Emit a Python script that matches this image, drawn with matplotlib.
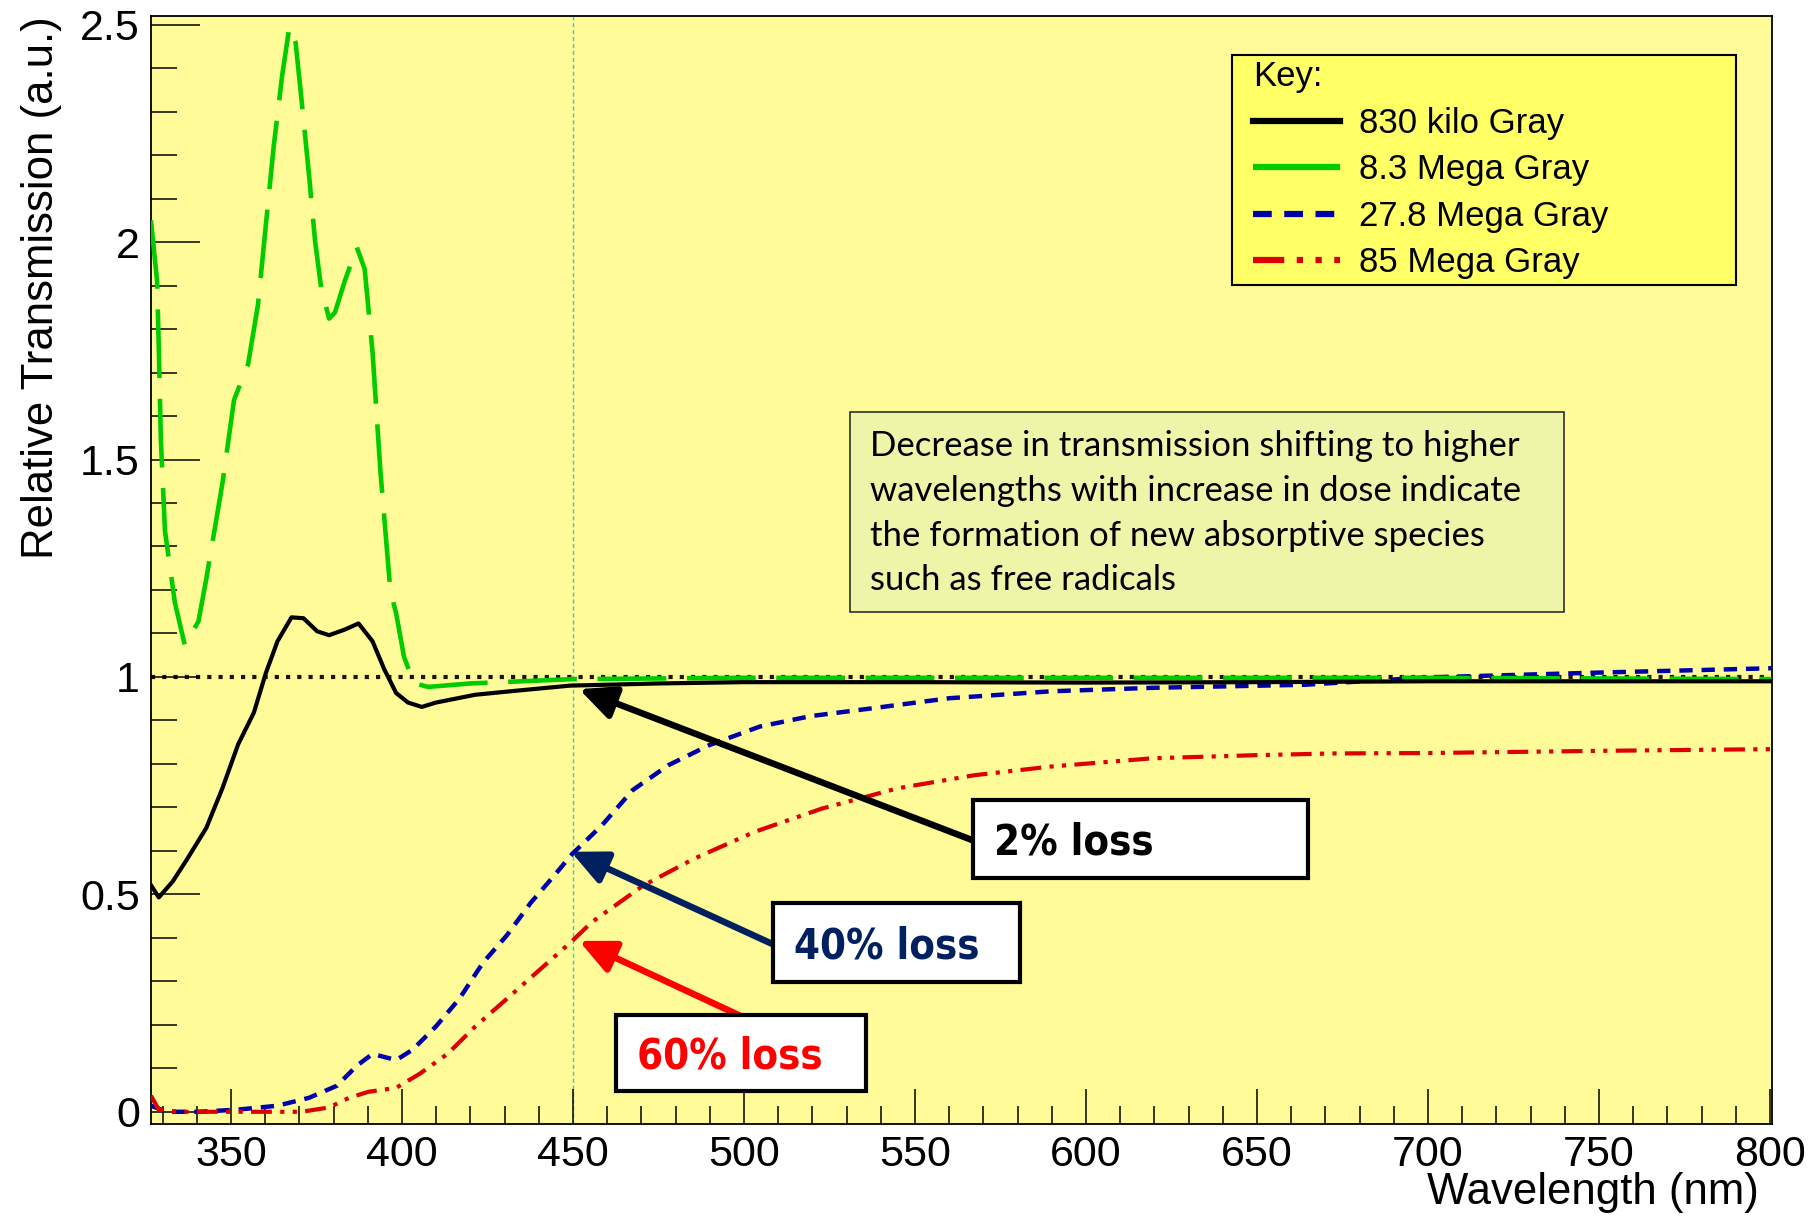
import numpy as np
import matplotlib
matplotlib.use('Agg')
from matplotlib import pyplot as plt
from matplotlib import font_manager
from matplotlib.patches import Rectangle
from matplotlib.ticker import MultipleLocator

# values
wl_830k = [326.7, 328.9, 333, 337.1, 342.8, 347.5, 352.1, 356.7, 360.2, 363.6, 367.7, 371.2, 375.2,
           378.7, 383.3, 387.3, 391.4, 394.8, 398.3, 401.8, 405.8, 409.9, 421.4, 433, 449.1, 475,
           500, 550, 600, 650, 700, 750, 800.5]
tr_830k = [0.52, 0.493, 0.53, 0.58, 0.653, 0.744, 0.845, 0.918, 1.009, 1.082, 1.137, 1.135, 1.105,
           1.096, 1.109, 1.123, 1.082, 1.018, 0.963, 0.941, 0.931, 0.941, 0.959, 0.968, 0.98, 0.985,
           0.988, 0.988, 0.987, 0.988, 0.99, 0.99, 0.99]

wl_8M = [326.6, 328.4, 328.9, 329.5, 330.7, 333.6, 336.5, 340.5, 342.8, 347.5, 350.9, 355, 357.9,
         360.2, 362.5, 365, 367.1, 368.9, 370.6, 372.9, 374.6, 376.4, 378.7, 380.4, 383.3, 386.8,
         389.1, 391.4, 393.7, 396.6, 398.3, 400.6, 403.5, 407.6, 420, 435, 450, 500, 600, 700, 800.5]
tr_8M = [2.05, 1.91, 1.756, 1.546, 1.336, 1.171, 1.073, 1.128, 1.226, 1.445, 1.637, 1.719, 1.856,
         2.039, 2.22, 2.385, 2.495, 2.459, 2.33, 2.148, 2.002, 1.893, 1.824, 1.838, 1.911, 1.988,
         1.938, 1.747, 1.473, 1.199, 1.146, 1.046, 0.986, 0.977, 0.985, 0.99, 0.995, 0.998, 0.998,
         0.998, 0.995]

wl_27M = [326.6, 331.3, 340.5, 352, 363.6, 372.8, 381, 386.8, 391.4, 398.3, 403, 409.9, 416.8,
          423.7, 430.7, 437.6, 444.5, 449.8, 458.5, 467.5, 477.9, 489.8, 504.7, 519.6, 537.6, 560,
          589.8, 619.6, 664, 700, 750, 800.5]
tr_27M = [0.014, 0.0, 0.0, 0.005, 0.014, 0.032, 0.06, 0.106, 0.133, 0.119, 0.142, 0.196, 0.26,
          0.343, 0.406, 0.48, 0.543, 0.593, 0.659, 0.74, 0.797, 0.843, 0.886, 0.91, 0.928, 0.951,
          0.967, 0.975, 0.982, 0.999, 1.01, 1.02]

wl_85M = [326.6, 328.9, 334.8, 352, 370.6, 378.7, 384.5, 390.2, 398.3, 405.3, 413.3, 421.4, 430.7,
          439.9, 449.8, 455.5, 470.5, 485.4, 503.2, 522.7, 545, 567.4, 589.8, 619.6, 649.4, 672,
          700, 750, 800.5]
tr_85M = [0.037, 0.005, 0.0, 0.0, 0.0, 0.01, 0.032, 0.046, 0.055, 0.088, 0.133, 0.196, 0.26,
          0.324, 0.393, 0.436, 0.52, 0.582, 0.644, 0.697, 0.744, 0.774, 0.794, 0.813, 0.82, 0.824,
          0.825, 0.83, 0.834]

labels = ['830 kilo Gray', '8.3 Mega Gray', '27.8 Mega Gray', '85 Mega Gray']

# arrow heads (data) for the loss call-outs
loss_texts = ['2% loss', '40% loss', '60% loss']
loss_colors = ['black', '#002060', '#ff0000']
loss_heads = [(451.8, 0.972), (449.4, 0.598), (451.8, 0.393)]

note = ('Decrease in transmission shifting to higher\n'
        'wavelengths with increase in dose indicate\n'
        'the formation of new absorptive species\n'
        'such as free radicals')

plt.rcParams['font.family'] = ['Liberation Sans', 'DejaVu Sans']

# narrow bold font for the call-outs, if there is one
narrow = dict(family='Roboto', fontsize=29)
fp = font_manager.FontProperties(family='DejaVu Sans', stretch='condensed', weight='bold')
if 'Condensed' in font_manager.findfont(fp, fallback_to_default=False):
    narrow = dict(family='DejaVu Sans', fontstretch='condensed', fontsize=30)
names = [f.name for f in font_manager.fontManager.ttflist]
if 'Liberation Sans Narrow' in names:
    narrow = dict(family='Liberation Sans Narrow', fontsize=36)

fig = plt.figure(figsize=(18.12, 12.18), dpi=100)
ax = fig.add_axes([0.0833, 0.0772, 0.8946, 0.9097])
ax.set_facecolor('#fffb98')

ax.axhline(1.0, color='#201000', ls=(0, (1, 1.7)), lw=3, zorder=1)
ax.axvline(450, color='#30d0c8', ls=(0, (3, 2)), lw=1, zorder=1)

ax.plot(wl_830k, tr_830k, color='black', lw=3, label=labels[0], zorder=5)
ax.plot(wl_8M, tr_8M, color='#00cc00', lw=3.3, ls=(0, (15, 4.5)), label=labels[1], zorder=4)
ax.plot(wl_27M, tr_27M, color='#0000aa', lw=3.2, ls=(0, (3, 2)), label=labels[2], zorder=3)
ax.plot(wl_85M, tr_85M, color='#dd0000', lw=3.0, ls=(0, (5, 2, 1, 2, 1, 2)), label=labels[3], zorder=3)

ax.set_xlim(326.6, 800.6)
ax.set_ylim(-0.028, 2.52)

ax.xaxis.set_major_locator(MultipleLocator(50))
ax.xaxis.set_minor_locator(MultipleLocator(10))
ax.yaxis.set_major_locator(MultipleLocator(0.5))
ax.yaxis.set_minor_locator(MultipleLocator(0.1))
ax.set_yticks([0, 0.5, 1, 1.5, 2, 2.5])
ax.set_yticklabels(['0', '0.5', '1', '1.5', '2', '2.5'])

ax.tick_params(axis='both', which='both', direction='in', width=1.1, labelsize=31, color='black')
ax.tick_params(axis='y', which='major', length=35, pad=8)
ax.tick_params(axis='y', which='minor', length=19)
ax.tick_params(axis='x', which='major', length=25, pad=8)
ax.tick_params(axis='x', which='minor', length=13)
for s in ax.spines.values():
    s.set_linewidth(1.3)

ax.set_xlabel('Wavelength (nm)', fontsize=31.5, loc='right')
ax.xaxis.set_label_coords(0.992, -0.043)
ax.set_ylabel('Relative Transmission (a.u.)', fontsize=31.5, loc='top')
ax.yaxis.set_label_coords(-0.055, 1.0)

# legend: frame drawn as its own box, entries placed inside it
ax.add_patch(Rectangle((0.667, 0.757), 0.311, 0.208, transform=ax.transAxes,
                       fc='#ffff66', ec='black', lw=1.5, zorder=6))
leg = ax.legend(loc='upper left', bbox_to_anchor=(0.680, 0.960), borderaxespad=0,
                title='Key:', alignment='left', fontsize=25, title_fontsize=25,
                handlelength=2.5, handletextpad=0.55, labelspacing=0.39, borderpad=0,
                frameon=False)
leg.set_zorder(7)
for h in leg.get_lines():
    h.set_linewidth(4.5)

# note box
ax.add_patch(Rectangle((0.431, 0.462), 0.441, 0.181, transform=ax.transAxes,
                       fc='#eef4a8', ec='#303030', lw=1.2, zorder=6))
ax.text(0.4435, 0.626, note, transform=ax.transAxes, ha='left', va='top', fontsize=25,
        family=['Lato', 'DejaVu Sans'], linespacing=1.485, zorder=7)

# loss boxes and arrows
box_xy = [(0.507, 0.222, 0.207, 0.070), (0.384, 0.128, 0.152, 0.071), (0.287, 0.030, 0.154, 0.068)]
tails = [(0.507, 0.256), (0.384, 0.162), (0.363, 0.098)]
for txt, col, head, bx, tl in zip(loss_texts, loss_colors, loss_heads, box_xy, tails):
    ax.annotate('', xy=head, xycoords='data', xytext=tl, textcoords='axes fraction',
                arrowprops=dict(arrowstyle='-|>,head_length=0.9,head_width=0.42', color=col,
                                lw=4.7, mutation_scale=24, shrinkA=0, shrinkB=0), zorder=8)
    ax.add_patch(Rectangle(bx[:2], bx[2], bx[3], transform=ax.transAxes, fc='white',
                           ec='black', lw=3, zorder=9))
    ax.text(bx[0] + 0.013, bx[1] + bx[3] / 2 - 0.003, txt, transform=ax.transAxes, ha='left',
            va='center', fontweight='bold', color=col, zorder=10, **narrow)

fig.savefig('out.png', dpi=100, facecolor='white')
